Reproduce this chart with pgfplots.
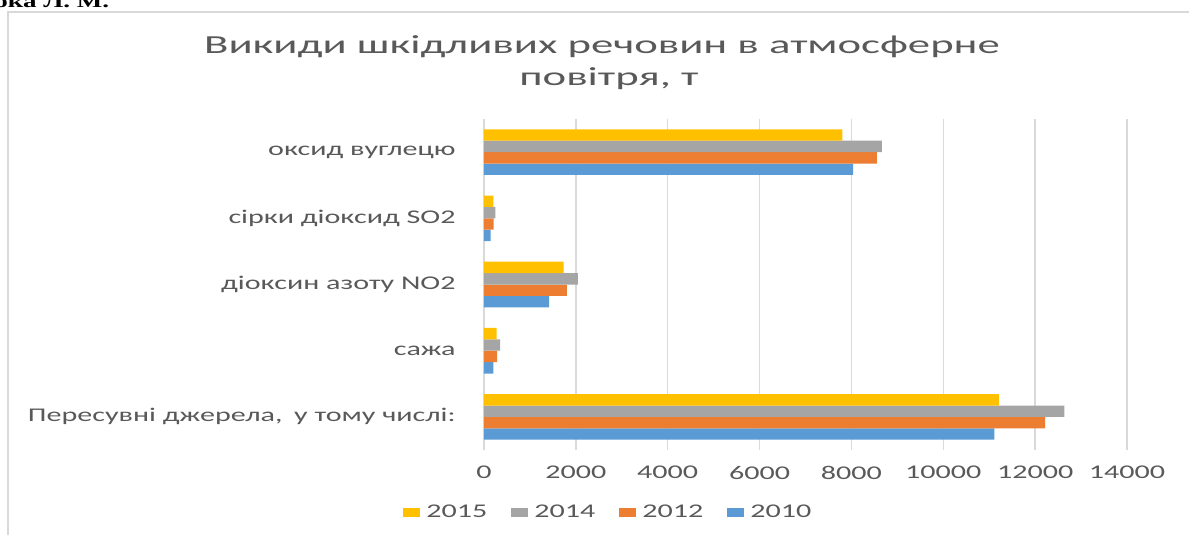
\documentclass[border=0pt]{standalone}
\usepackage{pgfplots}
\pgfplotsset{compat=1.18}
\usepackage{fontspec}
\setmainfont{Carlito}[FakeStretch=1.55]
\newfontfamily\titlefont{Carlito}[FakeStretch=1.72]
\newfontfamily\headfont{Liberation Serif}[FakeStretch=1.5]
\definecolor{c15}{HTML}{FFC000}
\definecolor{c14}{HTML}{A5A5A5}
\definecolor{c12}{HTML}{ED7D31}
\definecolor{c10}{HTML}{5B9BD5}
\definecolor{txt}{HTML}{595959}
\definecolor{gridc}{HTML}{D9D9D9}
\definecolor{bord}{HTML}{D9D9D9}
\begin{document}
\begin{tikzpicture}
\useasboundingbox (0,0) rectangle (594.5pt,-267.5pt);
\draw[color=bord, line width=1.2pt] (4pt,-270pt) -- (4pt,-6pt) -- (600pt,-6pt);
\node[anchor=base west, inner sep=0pt, font=\headfont\bfseries\fontsize{9}{10}\selectfont] at (-3pt,-4pt) {ока Л. М.};
\node[anchor=base, inner sep=0pt, text=txt, font=\titlefont\fontsize{13}{15}\selectfont] at (301pt,-26.6pt) {Викиди шкідливих речовин в атмосферне};
\node[anchor=base, inner sep=0pt, text=txt, font=\titlefont\fontsize{13}{15}\selectfont] at (304.5pt,-42.6pt) {повітря, т};
\begin{axis}[
  at={(242pt,-225pt)}, anchor=south west,
  width=321.5pt, height=165.5pt, scale only axis,
  xbar=0pt, bar width=5.7pt,
  xmin=0, xmax=14000, ymin=-0.5, ymax=4.5,
  ytick={0,1,2,3,4},
  yticklabels={{Пересувні джерела,\hspace{0.6em}у тому числі:},{сажа},{діоксин азоту NO2},{сірки діоксид SO2},{оксид вуглецю}},
  xtick={0,2000,...,14000},
  scaled x ticks=false,
  xmajorgrids, grid style={color=gridc, line width=0.75pt},
  axis line style={draw=none},
  major tick length=0pt, tick style={draw=none},
  /pgf/number format/assume math mode=true,
  /pgf/number format/1000 sep={},
  /pgf/number format/fixed,
  ticklabel style={font=\fontsize{9.7}{11}\selectfont, text=txt},
  yticklabel style={anchor=east, inner sep=0pt, xshift=-14pt},
  xticklabel style={anchor=north, inner sep=0pt, yshift=-8pt},
  legend columns=4, reverse legend,
  legend style={draw=none, fill=none, at={(0.195,-0.19)}, anchor=center,
    font=\fontsize{9.7}{11}\selectfont, text=txt, inner sep=0pt,
    /tikz/every odd column/.append style={column sep=1pt},
    /tikz/every even column/.append style={column sep=10pt}},
  legend image code/.code={\fill[#1,draw=none] (0pt,-2.25pt) rectangle (8.5pt,2.25pt);},
]
\addplot[fill=c10, draw=none] coordinates {(11112,0) (204,1) (1418,2) (145,3) (8036,4)};
\addplot[fill=c12, draw=none] coordinates {(12215,0) (284,1) (1804,2) (211,3) (8553,4)};
\addplot[fill=c14, draw=none] coordinates {(12634,0) (349,1) (2044,2) (247,3) (8662,4)};
\addplot[fill=c15, draw=none] coordinates {(11210,0) (276,1) (1731,2) (204,3) (7804,4)};
\legend{2010,2012,2014,2015}
\end{axis}
\end{tikzpicture}
\end{document}
